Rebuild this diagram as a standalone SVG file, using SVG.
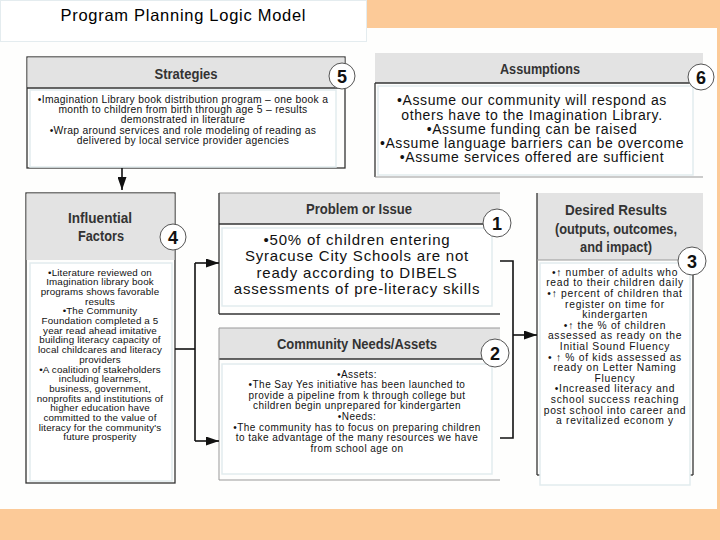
<svg xmlns="http://www.w3.org/2000/svg" width="720" height="540" viewBox="0 0 720 540">
<style>
.hdr{fill:#e3e3e3}
.ht{font-family:"Liberation Sans Narrow","Liberation Sans",Arial,sans-serif;font-weight:bold;fill:#333;text-anchor:middle}
.cb{fill:#fff;stroke:#e2ecee;stroke-width:1.5}
.dk{stroke:#333;stroke-width:1.3;fill:none}
.lt{stroke:#999;stroke-width:1;fill:none}
.tx{font-family:"Liberation Sans",Arial,sans-serif;fill:#111;text-anchor:middle}
.num circle{fill:#fff;stroke:#555;stroke-width:1}
.num text{font-family:"Liberation Sans",Arial,sans-serif;font-weight:bold;font-size:18px;fill:#111;text-anchor:middle}
.cn{stroke:#111;stroke-width:1.6;fill:none}
</style>
<defs>
<marker id="ah" viewBox="0 0 13 9" refX="13" refY="4.5" markerWidth="13" markerHeight="9" markerUnits="userSpaceOnUse" orient="auto">
<path d="M0,0 L13,4.5 L0,9 z" fill="#111"/>
</marker>
</defs>
<rect x="0" y="0" width="720" height="540" fill="#fcca98"/>
<rect x="0" y="28" width="717" height="481" fill="#fefefd"/>
<g id="title">
<rect x="0.5" y="0.5" width="366" height="41" fill="#fff" stroke="#e4ecef"/>
<text x="183" y="21" font-family="Liberation Sans,Arial,sans-serif" font-size="16.5" fill="#000" text-anchor="middle" textLength="245" lengthAdjust="spacing">Program Planning Logic Model</text>
</g>
<g id="strategies">
<rect x="27" y="57" width="318" height="111" fill="#fff" class="dk"/>
<rect x="27.5" y="57.5" width="317" height="30" class="hdr"/>
<line x1="27" y1="88" x2="345" y2="88" class="dk"/>
<rect x="30" y="90" width="306" height="77" class="cb"/>
<text x="186" y="79" class="ht" font-size="14" textLength="63" lengthAdjust="spacingAndGlyphs">Strategies</text>
<g class="tx" font-size="10.3" letter-spacing="0.3">
<text x="183" y="103">•Imagination Library book distribution program – one book a</text>
<text x="183" y="113">month to children from birth through age 5 – results</text>
<text x="183" y="123">demonstrated in literature</text>
<text x="183" y="134">•Wrap around services and role modeling of reading as</text>
<text x="183" y="144">delivered by local service provider agencies</text>
</g>
<g class="num"><circle cx="342" cy="76" r="13"/><text x="342" y="82.5">5</text></g>
</g>
<g id="assumptions">
<rect x="375" y="53" width="328" height="30" class="hdr"/>
<line x1="375" y1="83" x2="703" y2="83" class="dk"/>
<line x1="375" y1="83" x2="375" y2="177" class="dk"/>
<line x1="375" y1="177" x2="703" y2="177" class="lt"/>
<rect x="378" y="86" width="315" height="89" class="cb"/>
<text x="540" y="74" class="ht" font-size="14" textLength="80" lengthAdjust="spacingAndGlyphs">Assumptions</text>
<g class="tx" font-size="14" letter-spacing="0.6">
<text x="532" y="105">•Assume our community will respond as</text>
<text x="532" y="119.5">others have to the Imagination Library.</text>
<text x="532" y="134">•Assume funding can be raised</text>
<text x="532" y="148">•Assume language barriers can be overcome</text>
<text x="532" y="162">•Assume services offered are sufficient</text>
</g>
<g class="num"><circle cx="701" cy="77" r="13"/><text x="701" y="83.5">6</text></g>
</g>
<g id="influential">
<rect x="26" y="193" width="149" height="290" fill="#fff" class="dk"/>
<rect x="26.5" y="193.5" width="148" height="66.5" class="hdr"/>
<rect x="30" y="263" width="142" height="218" class="cb"/>
<text x="100" y="223" class="ht" font-size="14.5" textLength="64" lengthAdjust="spacingAndGlyphs">Influential</text>
<text x="101" y="241" class="ht" font-size="14.5" textLength="46" lengthAdjust="spacingAndGlyphs">Factors</text>
<g class="tx" font-size="9.8" letter-spacing="0.15">
<text x="100" y="275.5">•Literature reviewed on</text>
<text x="100" y="285.2">Imagination library book</text>
<text x="100" y="294.9">programs shows favorable</text>
<text x="100" y="304.6">results</text>
<text x="100" y="314.3">•The Community</text>
<text x="100" y="324">Foundation completed a 5</text>
<text x="100" y="333.7">year read ahead imitative</text>
<text x="100" y="343.4">building literacy capacity of</text>
<text x="100" y="353.1">local childcares and literacy</text>
<text x="100" y="362.8">providers</text>
<text x="100" y="372.5">•A coalition of stakeholders</text>
<text x="100" y="382.2">including learners,</text>
<text x="100" y="391.9">business, government,</text>
<text x="100" y="401.6">nonprofits and institutions of</text>
<text x="100" y="411.3">higher education have</text>
<text x="100" y="421">committed to the value of</text>
<text x="100" y="430.7">literacy for the community's</text>
<text x="100" y="440.4">future prosperity</text>
</g>
<g class="num"><circle cx="173" cy="237" r="13"/><text x="173" y="243.5">4</text></g>
</g>
<g id="problem">
<rect x="219" y="193" width="281" height="31" class="hdr"/>
<line x1="219" y1="193" x2="500" y2="193" class="lt"/>
<line x1="219" y1="224" x2="500" y2="224" class="dk"/>
<line x1="219" y1="193" x2="219" y2="314" class="dk"/>
<line x1="219" y1="314" x2="500" y2="314" class="dk"/>
<rect x="222" y="228" width="270" height="78" class="cb"/>
<text x="359" y="214" class="ht" font-size="14" textLength="106" lengthAdjust="spacingAndGlyphs">Problem or Issue</text>
<g class="tx" font-size="15" letter-spacing="0.8">
<text x="357" y="244.5">•50% of children entering</text>
<text x="357" y="261">Syracuse City Schools are not</text>
<text x="357" y="277.5">ready according to DIBELS</text>
<text x="357" y="294">assessments of pre-literacy skills</text>
</g>
<g class="num"><circle cx="497" cy="223" r="14"/><text x="497" y="229.5">1</text></g>
</g>
<g id="community">
<rect x="219" y="328" width="281" height="31" class="hdr"/>
<line x1="219" y1="328" x2="500" y2="328" class="lt"/>
<line x1="219" y1="359" x2="500" y2="359" class="dk"/>
<line x1="219" y1="328" x2="219" y2="480" class="lt"/>
<line x1="219" y1="480" x2="500" y2="480" class="lt"/>
<rect x="222" y="364" width="270" height="110" class="cb"/>
<text x="357" y="349" class="ht" font-size="14" textLength="160" lengthAdjust="spacingAndGlyphs">Community Needs/Assets</text>
<g class="tx" font-size="10" letter-spacing="0.45">
<text x="357" y="377.6">•Assets:</text>
<text x="357" y="388.2">•The Say Yes initiative has been launched to</text>
<text x="357" y="398.8">provide a pipeline from k through college but</text>
<text x="357" y="409.4">children begin unprepared for kindergarten</text>
<text x="357" y="420">•Needs:</text>
<text x="357" y="430.6">•The community has to focus on preparing children</text>
<text x="357" y="441.2">to take advantage of the many resources we have</text>
<text x="357" y="451.8">from school age on</text>
</g>
<g class="num"><circle cx="495" cy="353" r="14"/><text x="495" y="359.5">2</text></g>
</g>
<g id="desired">
<rect x="537" y="193" width="166" height="67" class="hdr"/>
<line x1="537" y1="193" x2="537" y2="475" class="dk"/>
<line x1="693" y1="260" x2="693" y2="475" class="dk"/>
<line x1="537" y1="260" x2="693" y2="260" class="lt"/>
<line x1="537" y1="475" x2="541" y2="475" class="dk"/>
<line x1="689" y1="475" x2="693" y2="475" class="dk"/>
<rect x="540" y="263" width="150" height="222" class="cb"/>
<text x="616" y="215" class="ht" font-size="14.5" textLength="102" lengthAdjust="spacingAndGlyphs">Desired Results</text>
<text x="616" y="234" class="ht" font-size="14.5" textLength="122" lengthAdjust="spacingAndGlyphs">(outputs, outcomes,</text>
<text x="616" y="252" class="ht" font-size="14.5" textLength="72" lengthAdjust="spacingAndGlyphs">and impact)</text>
<g class="tx" font-size="10.3" letter-spacing="0.7">
<text x="615" y="275.7">•↑ number of adults who</text>
<text x="615" y="286.3">read to their children daily</text>
<text x="615" y="296.9">•↑ percent of children that</text>
<text x="615" y="307.5">register on time for</text>
<text x="615" y="318.1">kindergarten</text>
<text x="615" y="328.7">•↑ the % of children</text>
<text x="615" y="339.3">assessed as ready on the</text>
<text x="615" y="349.9">Initial Sound Fluency</text>
<text x="615" y="360.5">• ↑ % of kids assessed as</text>
<text x="615" y="371.1">ready on Letter Naming</text>
<text x="615" y="381.7">Fluency</text>
<text x="615" y="392.3">•Increased literacy and</text>
<text x="615" y="402.9">school success reaching</text>
<text x="615" y="413.5">post school into career and</text>
<text x="615" y="424.1">a revitalized econom y</text>
</g>
<g class="num"><circle cx="692" cy="261" r="14"/><text x="692" y="267.5">3</text></g>
</g>
<g id="connectors">
<path class="cn" d="M122,168 V190" marker-end="url(#ah)"/>
<path class="cn" d="M175,349 H195"/>
<path class="cn" d="M195,263 V441"/>
<path class="cn" d="M195,263 H219" marker-end="url(#ah)"/>
<path class="cn" d="M195,441 H219" marker-end="url(#ah)"/>
<path class="cn" d="M500,261 H513 V438 H500"/>
<path class="cn" d="M513,335 H537" marker-end="url(#ah)"/>
</g>
</svg>
